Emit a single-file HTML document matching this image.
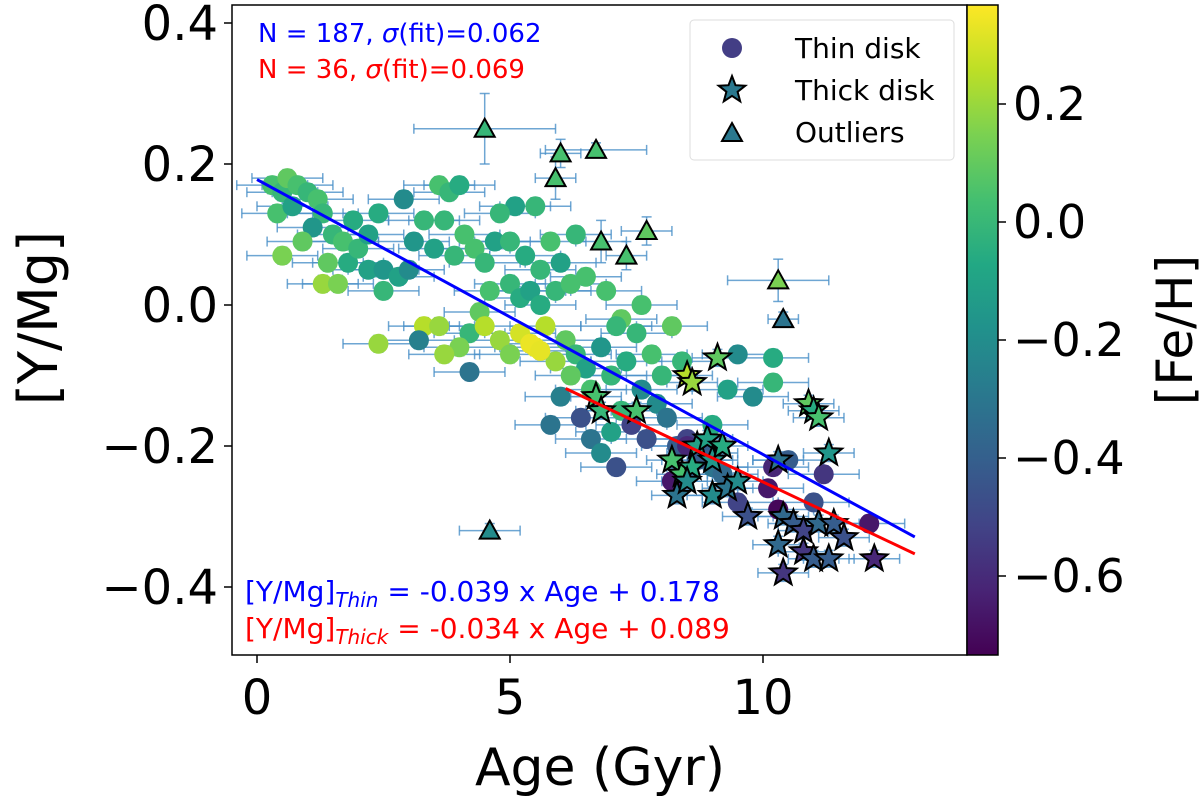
<!DOCTYPE html>
<html><head><meta charset="utf-8"><style>
html,body{margin:0;padding:0;background:#fff;}
svg{display:block;font-family:"DejaVu Sans","Liberation Sans",sans-serif;}
</style></head><body>
<svg id="chart" width="1200" height="800" viewBox="0 0 1200 800" xmlns="http://www.w3.org/2000/svg">
<defs>
<linearGradient id="viridis" x1="0" y1="1" x2="0" y2="0">
<stop offset="0" stop-color="#440154"/><stop offset="0.1" stop-color="#482475"/><stop offset="0.2" stop-color="#414487"/><stop offset="0.3" stop-color="#355f8d"/><stop offset="0.4" stop-color="#2a788e"/><stop offset="0.5" stop-color="#21918c"/><stop offset="0.6" stop-color="#22a884"/><stop offset="0.7" stop-color="#44bf70"/><stop offset="0.8" stop-color="#7ad151"/><stop offset="0.9" stop-color="#bddf26"/><stop offset="1" stop-color="#fde725"/>
</linearGradient>
<clipPath id="plotclip"><rect x="232" y="5" width="735" height="650"/></clipPath>
</defs>
<g id="errs" clip-path="url(#plotclip)"></g>
<g id="marks" clip-path="url(#plotclip)"></g>
<g id="fits" clip-path="url(#plotclip)"></g>
<rect x="232" y="5" width="735" height="650" fill="none" stroke="#000" stroke-width="1.5"/>
<g id="axes"></g>
<text x="258" y="42" font-size="26" fill="#0000ff">N = 187, <tspan font-style="italic">σ</tspan>(fit)=0.062</text>
<text x="258" y="78" font-size="26" fill="#ff0000">N = 36, <tspan font-style="italic">σ</tspan>(fit)=0.069</text>
<text x="245" y="601" font-size="28" fill="#0000ff">[Y/Mg]<tspan font-style="italic" font-size="20" dy="6">Thin</tspan><tspan dy="-6"> = -0.039 x Age + 0.178</tspan></text>
<text x="245" y="638" font-size="28" fill="#ff0000">[Y/Mg]<tspan font-style="italic" font-size="20" dy="6">Thick</tspan><tspan dy="-6"> = -0.034 x Age + 0.089</tspan></text>
<g>
<rect x="690" y="20" width="264" height="140" rx="4" fill="#fff" fill-opacity="0.85" stroke="#ddd"/>
<circle cx="732" cy="48" r="10" fill="#433e85"/>
<text x="795" y="58" font-size="28">Thin disk</text>
<polygon id="legstar" fill="#2a788e" stroke="#000" stroke-width="2"/>
<text x="795" y="100" font-size="28">Thick disk</text>
<polygon points="732,123 742,141 722,141" fill="#2a788e" stroke="#000" stroke-width="2"/>
<text x="795" y="142" font-size="28">Outliers</text>
</g>
<rect x="967" y="5" width="31" height="650" fill="url(#viridis)" stroke="#000" stroke-width="1.5"/>
<g id="cbticks"></g>
<text transform="translate(1192,330) rotate(-90)" text-anchor="middle" font-size="50">[Fe/H]</text>
<text x="600" y="785" text-anchor="middle" font-size="52">Age (Gyr)</text>
<text transform="translate(57,318) rotate(-90)" text-anchor="middle" font-size="54">[Y/Mg]</text>
</svg>
<script>
const thinAge=[0.3,0.5,0.6,0.8,1.0,0.4,0.7,1.2,1.3,1.1,0.9,0.5,1.5,1.7,1.4,1.3,1.6,1.8,2.0,2.2,2.5,2.8,3.0,2.9,2.5,2.4,3.3,3.2,3.6,3.8,4.0,3.7,4.1,3.5,3.9,4.3,4.5,4.7,5.0,5.3,5.6,5.8,6.0,5.0,5.2,5.4,5.6,5.9,6.2,4.6,4.4,4.2,4.0,3.6,3.7,4.2,4.5,4.8,5.0,5.2,5.5,5.7,5.9,6.1,6.3,6.5,6.8,7.0,7.3,7.5,7.2,7.6,6.0,6.4,6.6,6.8,7.0,7.2,7.4,7.7,7.1,7.9,8.1,8.3,8.5,8.8,9.0,9.2,9.5,8.2,8.5,8.7,9.0,9.3,9.5,8.4,8.0,7.6,8.2,9.8,10.1,10.3,10.2,10.5,10.2,10.2,11.2,12.1,11.0,6.3,6.5,6.9,7.1,5.5,5.1,4.8,2.2,1.9,2.4,3.3,3.1,6.2,6.6,5.8,7.8,5.4,5.6];
const thinY=[0.17,0.16,0.18,0.17,0.16,0.13,0.14,0.15,0.13,0.11,0.09,0.07,0.10,0.09,0.06,0.03,0.03,0.06,0.08,0.05,0.05,0.04,0.05,0.15,0.02,-0.055,-0.03,-0.05,0.17,0.16,0.17,0.12,0.10,0.08,0.07,0.08,0.06,0.09,0.09,0.07,0.05,0.09,0.06,0.03,0.01,0.02,0.0,0.02,0.03,0.02,-0.01,-0.04,-0.06,-0.03,-0.07,-0.095,-0.03,-0.05,-0.07,-0.04,-0.06,-0.03,-0.08,-0.05,-0.07,-0.09,-0.06,-0.10,-0.08,-0.04,-0.02,-0.12,-0.13,-0.16,-0.19,-0.21,-0.18,-0.15,-0.17,-0.19,-0.23,-0.14,-0.16,-0.20,-0.19,-0.21,-0.23,-0.24,-0.28,-0.25,-0.20,-0.22,-0.17,-0.12,-0.07,-0.08,-0.10,0.0,-0.03,-0.13,-0.26,-0.29,-0.23,-0.22,-0.11,-0.075,-0.24,-0.31,-0.28,0.10,0.04,0.02,-0.03,0.14,0.14,0.13,0.10,0.12,0.13,0.12,0.09,-0.10,-0.12,-0.17,-0.07,-0.055,-0.065];
const thinFe=[0.05,0.0,0.1,0.05,0.0,0.05,-0.1,0.05,0.0,-0.15,0.1,0.15,0.0,0.05,0.1,0.2,0.15,-0.05,0.0,-0.1,-0.15,-0.1,-0.2,-0.2,0.0,0.2,0.25,-0.25,0.05,0.0,-0.05,0.0,0.05,-0.1,0.0,0.05,0.0,-0.1,0.0,-0.05,0.0,0.05,-0.1,0.0,-0.05,-0.1,-0.05,0.0,0.05,0.05,0.1,0.0,0.15,0.2,0.2,-0.3,0.25,0.2,0.15,0.3,0.33,0.25,0.2,0.1,0.0,-0.1,-0.15,0.0,-0.05,0.0,0.1,-0.2,-0.25,-0.45,-0.3,-0.2,-0.1,0.0,-0.5,-0.45,-0.45,-0.2,-0.3,-0.4,-0.5,-0.4,-0.3,-0.35,-0.5,-0.65,-0.6,-0.4,-0.05,-0.1,-0.2,0.0,0.0,0.05,0.1,-0.2,-0.65,-0.7,-0.6,-0.4,0.0,-0.05,-0.55,-0.65,-0.45,0.0,0.05,0.05,0.0,0.0,-0.1,0.0,-0.1,-0.05,-0.05,0.0,-0.15,0.1,0.05,-0.3,0.05,0.34,0.33];
const thickAge=[6.7,6.8,7.5,8.5,8.6,9.1,8.7,8.9,9.0,8.2,8.4,8.6,8.3,8.5,9.0,9.3,9.5,10.3,10.9,11.0,11.1,11.3,10.4,10.6,10.8,11.1,11.4,10.3,10.8,11.0,11.3,10.4,12.2,11.6,9.7,9.2];
const thickY=[-0.13,-0.15,-0.15,-0.10,-0.11,-0.075,-0.20,-0.19,-0.22,-0.22,-0.24,-0.23,-0.27,-0.25,-0.27,-0.26,-0.25,-0.22,-0.14,-0.15,-0.16,-0.21,-0.30,-0.31,-0.32,-0.31,-0.31,-0.34,-0.35,-0.36,-0.36,-0.38,-0.36,-0.33,-0.30,-0.20];
const thickFe=[0.05,0.0,0.05,0.25,0.2,0.1,-0.1,-0.1,-0.15,0.05,0.05,-0.05,-0.3,-0.2,-0.2,-0.3,-0.2,-0.3,0.1,-0.05,0.05,-0.15,-0.35,-0.4,-0.5,-0.35,-0.4,-0.35,-0.55,-0.4,-0.4,-0.55,-0.6,-0.45,-0.45,-0.05];
const outAge=[4.5,6.0,6.7,5.9,6.8,7.3,7.7,10.3,10.4,4.6];
const outY=[0.25,0.215,0.22,0.18,0.09,0.07,0.105,0.035,-0.02,-0.32];
const outFe=[0.0,0.05,0.05,0.05,0.05,0.05,0.1,0.15,-0.3,-0.2];
const outXerr=[1.4,0.4,1.0,0.4,0.5,0.4,0.5,1.0,0.3,0.6];
const outYerr=[0.05,0.02,0.01,0.03,0.03,0.02,0.02,0.03,0.01,0.01];
const xTicks=[0,5,10];
const yTicks=[0.4,0.2,0.0,-0.2,-0.4];
const cTicks=[0.2,0.0,-0.2,-0.4,-0.6];
const fitThin=[-0.039,0.178,0,13];
const fitThick=[-0.034,0.089,6.1,13];

const NS="http://www.w3.org/2000/svg";
const X=a=>257+a*50.6;
const Y=v=>305-v*705;
const CB=f=>222-f*590;
const vmin=-0.72,vmax=0.37;
const vir=["#440154","#482475","#414487","#355f8d","#2a788e","#21918c","#22a884","#44bf70","#7ad151","#bddf26","#fde725"];
function hex(h){return [1,3,5].map(i=>parseInt(h.substr(i,2),16));}
function cmap(f){let t=(f-vmin)/(vmax-vmin);t=Math.max(0,Math.min(1,t))*10;const i=Math.min(9,Math.floor(t)),u=t-i;const a=hex(vir[i]),b=hex(vir[i+1]);return "rgb("+a.map((c,k)=>Math.round(c+(b[k]-c)*u)).join(",")+")";}
function el(tag,attrs,parent){const e=document.createElementNS(NS,tag);for(const k in attrs)e.setAttribute(k,attrs[k]);parent.appendChild(e);return e;}
const errs=document.getElementById('errs'),marks=document.getElementById('marks'),fits=document.getElementById('fits'),axes=document.getElementById('axes');
function errbar(a,v,xe,ye){
  const g=el('g',{stroke:'#4a90c8','stroke-width':1.5,'stroke-opacity':0.8},errs);
  
  
  el('line',{x1:X(a-xe),x2:X(a+xe),y1:Y(v),y2:Y(v)},g);
  el('line',{x1:X(a),x2:X(a),y1:Y(v-ye),y2:Y(v+ye)},g);
  el('line',{x1:X(a-xe),x2:X(a-xe),y1:Y(v)-5,y2:Y(v)+5},g);
  el('line',{x1:X(a+xe),x2:X(a+xe),y1:Y(v)-5,y2:Y(v)+5},g);
  el('line',{x1:X(a)-5,x2:X(a)+5,y1:Y(v-ye),y2:Y(v-ye)},g);
  el('line',{x1:X(a)-5,x2:X(a)+5,y1:Y(v+ye),y2:Y(v+ye)},g);
}
function starPts(cx,cy,R){const r=R*0.42;let p=[];for(let i=0;i<10;i++){const ang=-Math.PI/2+i*Math.PI/5;const rr=i%2?r:R;p.push((cx+rr*Math.cos(ang)).toFixed(1)+","+(cy+rr*Math.sin(ang)).toFixed(1));}return p.join(" ");}
document.getElementById('legstar').setAttribute('points',starPts(732,90,14));
thinAge.forEach((a,i)=>errbar(a,thinY[i],0.7,0.012));
thickAge.forEach((a,i)=>errbar(a,thickY[i],0.5,0.012));
outAge.forEach((a,i)=>errbar(a,outY[i],outXerr[i],outYerr[i]));
thinAge.forEach((a,i)=>{
  const c=el('circle',{cx:X(a),cy:Y(thinY[i]),r:10,fill:cmap(thinFe[i])},marks);
  
  
});
thickAge.forEach((a,i)=>{
  const s=el('polygon',{points:starPts(X(a),Y(thickY[i]),14),fill:cmap(thickFe[i]),stroke:'#000','stroke-width':2},marks);
  
  
});
outAge.forEach((a,i)=>{
  const x=X(a),y=Y(outY[i]);
  const t=el('polygon',{points:`${x},${y-10} ${x+10},${y+8} ${x-10},${y+8}`,fill:cmap(outFe[i]),stroke:'#000','stroke-width':2},marks);
  
  
});
[[fitThin,'#0000ff','thin-fit-line'],[fitThick,'#ff0000','thick-fit-line']].forEach(([f,col,n])=>{
  const l=el('line',{x1:X(f[2]),y1:Y(f[0]*f[2]+f[1]),x2:X(f[3]),y2:Y(f[0]*f[3]+f[1]),stroke:col,'stroke-width':3},fits);
  
  
});
xTicks.forEach(t=>{
  const ln=el('line',{x1:X(t),x2:X(t),y1:655,y2:663,stroke:'#000','stroke-width':1.5},axes);
  
  
  const tx=el('text',{x:X(t),y:714,'text-anchor':'middle','font-size':48},axes);
  tx.textContent=String(t);
  
  
});
const fmt=v=>(v<0?"\u2212":"")+Math.abs(v).toFixed(1);
yTicks.forEach(t=>{
  const ln=el('line',{x1:224,x2:232,y1:Y(t),y2:Y(t),stroke:'#000','stroke-width':1.5},axes);
  
  
  const tx=el('text',{x:218,y:Y(t)+17,'text-anchor':'end','font-size':48},axes);
  tx.textContent=fmt(t);
  
  
});
const cb=document.getElementById('cbticks');
cTicks.forEach(t=>{
  const ln=el('line',{x1:998,x2:1006,y1:CB(t),y2:CB(t),stroke:'#000','stroke-width':1.5},cb);
  
  
  const tx=el('text',{x:1013,y:CB(t)+16,'font-size':46},cb);
  tx.textContent=fmt(t);
  
  
});
</script>
</body></html>
